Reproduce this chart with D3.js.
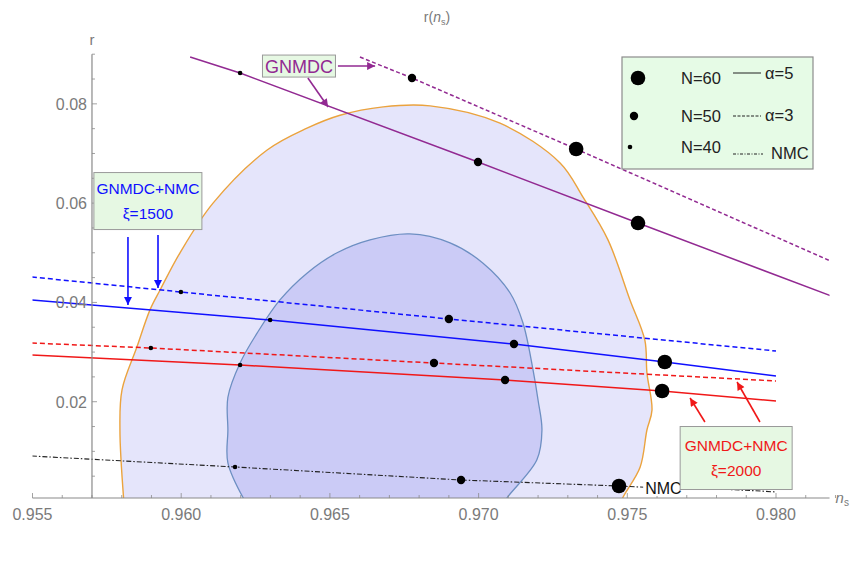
<!DOCTYPE html>
<html>
<head>
<meta charset="utf-8">
<script src="https://cdn.jsdelivr.net/npm/d3@7"></script>
<style>
  body { margin: 0; background: #fff; }
  text { font-family: "Liberation Sans", Arial, sans-serif; }
</style>
</head>
<body>
<svg id="chart"></svg>
<script>
// axis ticks
const nsTicks = [0.955, 0.960, 0.965, 0.970, 0.975, 0.980]
const nsMinor = d3.range(0.955, 0.9821, 0.001)
const rTicks = [0.02, 0.04, 0.06, 0.08]
const rMinor = d3.range(0.005, 0.0901, 0.005)

// 2-sigma and 1-sigma regions (n_s, r)
const outerContour = [
    [0.95808, -0.0008], [0.95794, 0.0143], [0.95801, 0.0224], [0.95851, 0.0310],
    [0.95895, 0.0385], [0.95929, 0.0425], [0.95996, 0.0500], [0.96107, 0.0600],
    [0.96289, 0.0707], [0.96423, 0.0751], [0.96534, 0.0777], [0.96679, 0.0794],
    [0.96837, 0.0796], [0.97072, 0.0761], [0.97274, 0.0681], [0.97351, 0.0612],
    [0.97435, 0.0526], [0.97509, 0.0405], [0.97559, 0.0324], [0.97566, 0.0258],
    [0.97583, 0.0183], [0.97566, 0.0143], [0.97543, 0.0068], [0.97486, 0.0008],
    [0.97476, -0.0008]
]
const innerContour = [
    [0.96222, -0.0008], [0.96157, 0.0077], [0.96157, 0.0143], [0.96157, 0.0209],
    [0.96198, 0.0278], [0.96255, 0.0338], [0.96332, 0.0405], [0.96423, 0.0459],
    [0.96524, 0.0500], [0.96635, 0.0526], [0.96769, 0.0538], [0.96904, 0.0520],
    [0.97015, 0.0479], [0.97106, 0.0419], [0.97149, 0.0359], [0.97183, 0.0264],
    [0.97200, 0.0203], [0.97213, 0.0143], [0.97196, 0.0083], [0.97095, 0.0006],
    [0.97082, -0.0008]
]

// predictions
const gnmdcA5 = [[0.96030, 0.08943], [0.96198, 0.08620], [0.96998, 0.06828], [0.97536, 0.05599], [0.98195, 0.04109]]
const gnmdcA3 = [[0.96601, 0.08943], [0.96776, 0.08520], [0.97328, 0.07090], [0.98191, 0.04814]]
const xi1500A5 = [[0.95498, 0.04048], [0.96299, 0.03646], [0.97119, 0.03162], [0.97626, 0.02800], [0.98000, 0.02518]]
const xi1500A3 = [[0.95498, 0.04512], [0.95999, 0.04210], [0.96900, 0.03666], [0.98000, 0.03021]]
const xi2000A3 = [[0.95498, 0.03182], [0.95898, 0.03082], [0.96850, 0.02779], [0.98000, 0.02417]]
const xi2000A5 = [[0.95498, 0.02941], [0.96198, 0.02739], [0.97089, 0.02437], [0.97617, 0.02216], [0.98000, 0.02014]]
const nmc = [[0.95498, 0.00906], [0.96181, 0.00685], [0.96941, 0.00423], [0.97472, 0.00302],
    [0.97610, 0.00262], [0.97805, 0.00242], [0.97950, 0.00201], [0.98000, 0.00181]]

// e-folds markers [n_s, r, N]
const dotsGnmdcA5 = [[0.96198, 0.08620, 40], [0.96998, 0.06828, 50], [0.97536, 0.05599, 60]]
const dotsGnmdcA3 = [[0.96776, 0.08520, 50], [0.97328, 0.07090, 60]]
const dotsXi1500A5 = [[0.96299, 0.03646, 40], [0.97119, 0.03162, 50], [0.97626, 0.02800, 60]]
const dotsXi1500A3 = [[0.95999, 0.04210, 40], [0.96900, 0.03666, 50]]
const dotsXi2000A3 = [[0.95898, 0.03082, 40], [0.96850, 0.02779, 50]]
const dotsXi2000A5 = [[0.96198, 0.02739, 40], [0.97089, 0.02437, 50], [0.97617, 0.02216, 60]]
const dotsNmc = [[0.96181, 0.00685, 40], [0.96941, 0.00423, 50], [0.97472, 0.00302, 60]]

const legendN = [60, 50, 40]
const legendStyle = ['α=5', 'α=3', 'NMC']

const width = 856
const height = 574

const x = d3.scaleLinear().domain([0.955, 0.98]).range([32.5, 776])
const y = d3.scaleLinear().domain([0, 0.09]).range([501, 54.2])
const rAxis0 = 0.0006 // where the n_s axis crosses
const nsAxis0 = 0.957 // where the r axis crosses
const nsMax = 0.9818

const dotRadius = d3.scaleOrdinal().domain([40, 50, 60]).range([2.3, 4.2, 7.3])

const purple = '#922a92'
const blue = '#1010ff'
const red = '#f01818'
const gray = '#8a8a8a'
const labelGray = '#7a7a7a'
const boxFill = '#e6f8e3'

const svg = d3.select('#chart')
    .attr('width', width)
    .attr('height', height)

const defs = svg.append('defs')
defs.append('clipPath').attr('id', 'plot')
    .append('rect')
    .attr('x', x(0.955)).attr('y', y(0.09))
    .attr('width', x(nsMax) - x(0.955))
    .attr('height', y(rAxis0) - y(0.09))

function arrowHead(id, color) {
    defs.append('marker')
        .attr('id', id)
        .attr('viewBox', '0 0 10 10')
        .attr('refX', 10).attr('refY', 5)
        .attr('markerWidth', 11).attr('markerHeight', 8)
        .attr('markerUnits', 'userSpaceOnUse')
        .attr('orient', 'auto')
        .append('path')
        .attr('d', 'M0,0 L10,5 L0,10 z')
        .attr('fill', color)
}
arrowHead('ah-purple', purple)
arrowHead('ah-blue', blue)
arrowHead('ah-red', red)

const line = d3.line().x(d => x(d[0])).y(d => y(d[1]))
const smooth = d3.line().x(d => x(d[0])).y(d => y(d[1])).curve(d3.curveCatmullRom)

const plot = svg.append('g').attr('clip-path', 'url(#plot)')

// confidence regions
plot.append('path')
    .attr('d', smooth(outerContour) + 'Z')
    .attr('fill', '#e5e5fb')
    .attr('stroke', '#eba33e')
    .attr('stroke-width', 1.4)

plot.append('path')
    .attr('d', smooth(innerContour) + 'Z')
    .attr('fill', '#cbcbf6')
    .attr('stroke', '#6d8fc2')
    .attr('stroke-width', 1.3)

// axes (drawn under the curves like Mathematica)
const axes = svg.append('g').attr('stroke', gray).attr('fill', 'none')
axes.append('line')
    .attr('x1', x(0.955)).attr('x2', x(nsMax))
    .attr('y1', y(rAxis0)).attr('y2', y(rAxis0))
    .attr('stroke-width', 1.2)
axes.append('line')
    .attr('x1', x(nsAxis0)).attr('x2', x(nsAxis0))
    .attr('y1', y(rAxis0)).attr('y2', y(0.09))
    .attr('stroke-width', 1.2)

axes.selectAll('.xminor').data(nsMinor).join('line')
    .attr('x1', d => x(d)).attr('x2', d => x(d))
    .attr('y1', y(rAxis0)).attr('y2', d => y(rAxis0) - (nsTicks.some(t => Math.abs(t - d) < 1e-6) ? 5 : 3))
    .attr('stroke-width', 0.8)
axes.selectAll('.yminor').data(rMinor).join('line')
    .attr('y1', d => y(d)).attr('y2', d => y(d))
    .attr('x1', x(nsAxis0)).attr('x2', d => x(nsAxis0) + (rTicks.some(t => Math.abs(t - d) < 1e-6) ? 5 : 3))
    .attr('stroke-width', 0.8)

svg.append('g').selectAll('text').data(nsTicks).join('text')
    .attr('x', d => x(d)).attr('y', 520)
    .attr('text-anchor', 'middle')
    .attr('font-size', 16)
    .attr('fill', labelGray)
    .text(d => d3.format('.3f')(d))

svg.append('g').selectAll('text').data(rTicks).join('text')
    .attr('x', x(nsAxis0) - 5).attr('y', d => y(d) + 6)
    .attr('text-anchor', 'end')
    .attr('font-size', 16)
    .attr('fill', labelGray)
    .text(d => d3.format('.2f')(d))

// axis labels and title
svg.append('text')
    .attr('x', x(nsAxis0)).attr('y', 45)
    .attr('text-anchor', 'middle')
    .attr('font-size', 15).attr('fill', labelGray)
    .text('r')

const nsLab = svg.append('text')
    .attr('x', x(nsMax) + 6).attr('y', 503)
    .attr('font-size', 15).attr('fill', labelGray)
nsLab.append('tspan').attr('font-style', 'italic').text('n')
nsLab.append('tspan').attr('font-size', 10).attr('dy', 3).text('s')

const title = svg.append('text')
    .attr('x', 437).attr('y', 22)
    .attr('text-anchor', 'middle')
    .attr('font-size', 14).attr('fill', labelGray)
title.append('tspan').text('r(')
title.append('tspan').attr('font-style', 'italic').text('n')
title.append('tspan').attr('font-size', 9).attr('dy', 3).text('s')
title.append('tspan').attr('dy', -3).text(')')

// prediction curves
const series = [
    {pts: gnmdcA5, color: purple, dash: null},
    {pts: gnmdcA3, color: purple, dash: '4,2.5'},
    {pts: xi1500A3, color: blue, dash: '5,3'},
    {pts: xi1500A5, color: blue, dash: null},
    {pts: xi2000A3, color: red, dash: '5,3'},
    {pts: xi2000A5, color: red, dash: null},
    {pts: nmc, color: '#222', dash: '5,2,1.5,2'}
]
plot.selectAll('.curve').data(series).join('path')
    .attr('d', d => line(d.pts))
    .attr('fill', 'none')
    .attr('stroke', d => d.color)
    .attr('stroke-width', d => d.color === '#222' ? 1.1 : 1.5)
    .attr('stroke-dasharray', d => d.dash)

// NMC label with white background
const nmcLabel = svg.append('g')
    .attr('transform', `translate(${x(0.97560)},${y(0.00262)})`)
nmcLabel.append('rect')
    .attr('x', -2).attr('y', -8).attr('width', 38).attr('height', 16)
    .attr('fill', '#fff')
nmcLabel.append('text')
    .attr('y', 6).attr('font-size', 16).attr('fill', '#111')
    .text('NMC')

// e-fold dots
const allDots = [].concat(dotsGnmdcA5, dotsGnmdcA3, dotsXi1500A5, dotsXi1500A3, dotsXi2000A3, dotsXi2000A5, dotsNmc)
svg.append('g').selectAll('circle').data(allDots).join('circle')
    .attr('cx', d => x(d[0])).attr('cy', d => y(d[1]))
    .attr('r', d => dotRadius(d[2]))
    .attr('fill', '#000')

// annotation boxes
function labelBox(cx, cy, lines, color, fontSize, w, h) {
    const g = svg.append('g').attr('transform', `translate(${x(cx)},${y(cy)})`)
    g.append('rect')
        .attr('x', -w / 2).attr('y', -h / 2).attr('width', w).attr('height', h)
        .attr('fill', boxFill).attr('stroke', '#9a9a9a').attr('stroke-width', 1)
    const lh = lines.length > 1 ? 25 : 0
    g.selectAll('text').data(lines).join('text')
        .attr('text-anchor', 'middle')
        .attr('y', (d, i) => (i - (lines.length - 1) / 2) * lh + fontSize * 0.36)
        .attr('font-size', fontSize)
        .attr('fill', color)
        .text(d => d)
}

function arrow(from, to, id, color) {
    svg.append('line')
        .attr('x1', x(from[0])).attr('y1', y(from[1]))
        .attr('x2', x(to[0])).attr('y2', y(to[1]))
        .attr('stroke', color).attr('stroke-width', 1.6)
        .attr('marker-end', `url(#${id})`)
}

labelBox(0.96396, 0.08761, ['GNMDC'], purple, 18, 73, 22)
arrow([0.96527, 0.08761], [0.96652, 0.08761], 'ah-purple', purple)
arrow([0.96426, 0.08520], [0.96494, 0.07936], 'ah-purple', purple)

labelBox(0.95888, 0.06042, ['GNMDC+NMC', 'ξ=1500'], blue, 15.5, 108, 57)
arrow([0.95821, 0.05317], [0.95821, 0.03948], 'ah-blue', blue)
arrow([0.95922, 0.05358], [0.95922, 0.04290], 'ah-blue', blue)

labelBox(0.97866, 0.00866, ['GNMDC+NMC', 'ξ=2000'], red, 15.5, 112, 63)
arrow([0.97761, 0.01591], [0.97711, 0.02075], 'ah-red', red)
arrow([0.97946, 0.01591], [0.97869, 0.02397], 'ah-red', red)

// legend
const legend = svg.append('g').attr('transform', 'translate(622,57)')
legend.append('rect')
    .attr('width', 191).attr('height', 112)
    .attr('fill', '#e6fbe6').attr('stroke', '#8c8c8c').attr('stroke-width', 1.2)

const rowY = [21, 59, 90]
const lineY = [16, 59, 97]
const styleY = [16, 58, 96]
const legendDash = [null, '3,1.5', '3,1.5,1,1.5']

legend.selectAll('circle').data(legendN).join('circle')
    .attr('cx', (d, i) => [16, 12, 8][i]).attr('cy', (d, i) => rowY[i])
    .attr('r', d => dotRadius(d))
    .attr('fill', '#000')

legend.selectAll('.nlab').data(legendN).join('text')
    .attr('class', 'nlab')
    .attr('x', 59).attr('y', (d, i) => rowY[i] + 6)
    .attr('font-size', 16.5).attr('fill', '#222')
    .text(d => 'N=' + d)

legend.selectAll('line').data(legendStyle).join('line')
    .attr('x1', 111).attr('x2', (d, i) => i === 2 ? 141 : 139)
    .attr('y1', (d, i) => lineY[i]).attr('y2', (d, i) => lineY[i])
    .attr('stroke', '#222').attr('stroke-width', 1)
    .attr('stroke-dasharray', (d, i) => legendDash[i])

legend.selectAll('.slab').data(legendStyle).join('text')
    .attr('class', 'slab')
    .attr('x', (d, i) => i === 2 ? 149 : 143).attr('y', (d, i) => styleY[i] + 6)
    .attr('font-size', 16.5).attr('fill', '#222')
    .text(d => d)
</script>
</body>
</html>
